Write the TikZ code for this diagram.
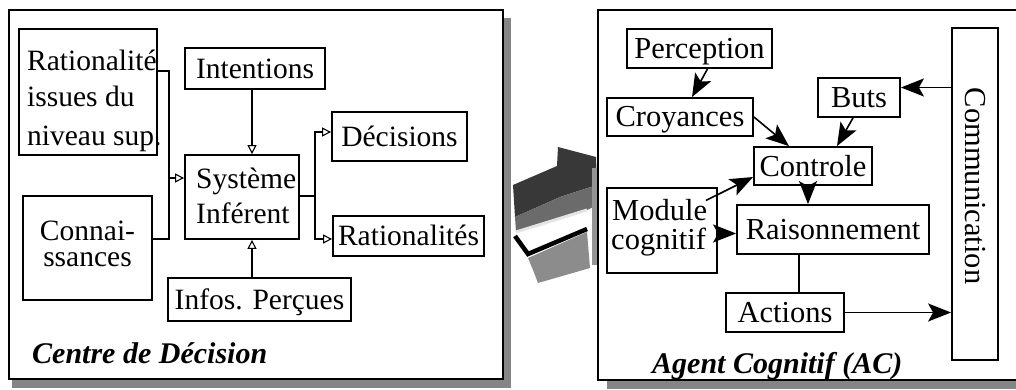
\documentclass[tikz,border=0pt]{standalone}
\usepackage{fontspec}
\setmainfont{Liberation Serif}
\usetikzlibrary{arrows.meta}
\newcommand\fsl{\fontsize{29.5}{35}\selectfont}
\newcommand\fsr{\fontsize{30.5}{36}\selectfont}
\tikzset{
  boxl/.style={draw, line width=1.8pt, inner sep=0pt, font=\fsl, text height=19.5pt, text depth=0pt},
  boxr/.style={draw, line width=1.8pt, inner sep=0pt, font=\fsr, text height=20pt, text depth=0pt},
  txl/.style={inner sep=0pt, font=\fsl, anchor=base west},
  txr/.style={inner sep=0pt, font=\fsr, anchor=base west},
  title/.style={inner sep=0pt, font=\bfseries\itshape\fontsize{30}{36}\selectfont, anchor=base west},
  frame/.style={draw, line width=1.8pt},
  shade/.style={fill=black!48, draw=none},
  thinline/.style={line width=1.1pt},
  openarr/.style={line width=1.1pt, -{Triangle[open, length=9pt, width=9pt]}},
  arr/.style={line width=1.6pt, -{Stealth[length=23pt, width=18pt, inset=5pt]}},
  plain/.style={line width=1.5pt}
}
\begin{document}
\begin{tikzpicture}[x=1pt, y=-1pt]
\useasboundingbox (0,0) rectangle (1016,390);
\clip (0,0) rectangle (1016,390);
\fill[white] (0,0) rectangle (1016,390);

% shadows of frames
\fill[shade] (503,18) rectangle (511,388);
\fill[shade] (12,379) rectangle (511,388);
\fill[shade] (607,380) rectangle (1016,389);

% 3D block arrow
\fill[black!78] (513,185) -- (557,166) -- (558,147) -- (596,157) -- (597,185) -- (560,197) -- (515,217) -- cycle;
\fill[black!58] (515,217) -- (560,197) -- (597,185) -- (597,205) -- (587,210) -- (516,232) -- cycle;
\draw[black!10, line width=3pt] (516,232) -- (587,210);
\fill[black!45] (528,258) -- (587,232) -- (590,268) -- (538,283) -- (533,270) -- cycle;
\draw[black, line width=4.5pt] (515,236) -- (528,254) -- (587,229);
\fill[black!42] (592,168) rectangle (597,265);

% frames
\node[frame, minimum width=494pt, minimum height=369pt, inner sep=0pt] (fl) at (256,194.5) {};
\node[frame, minimum width=422pt, minimum height=370pt, inner sep=0pt] (fr) at (809,195) {};

% ---- left: Centre de Decision ----
\node[boxl, minimum width=138pt, minimum height=126pt] (rat) at (88,92) {};
\node[txl] (rat1) at (27,71) {Rationalité};
\node[txl] (rat2) at (27,107) {issues du};
\node[txl] (rat3) at (27,146) {niveau sup.};

\node[boxl, minimum width=129pt, minimum height=104pt] (con) at (87.5,248) {};
\node[inner sep=0pt, align=center, font=\fontsize{29.5}{26}\selectfont] (con1) at (87.5,244) {Connai-\\ssances};

\node[boxl, minimum width=140pt, minimum height=41pt] (int) at (255,68.5) {Intentions};

\node[boxl, minimum width=114pt, minimum height=84pt] (sys) at (242,197) {};
\node[txl] (sys1) at (196,188) {Système};
\node[txl] (sys2) at (196,223) {Inférent};

\node[boxl, minimum width=135pt, minimum height=49pt] (dec) at (399.5,136.5) {Décisions};
\node[boxl, minimum width=151pt, minimum height=40pt] (rats) at (408.5,236) {Rationalités};
\node[boxl, minimum width=183pt, minimum height=43pt] (inf) at (259.5,299.5) {Infos. Perçues};

\node[title] (tl) at (32,363) {Centre de Décision};

\coordinate (j1) at (169,178);
\draw[thinline] ([yshift=21pt]rat.east) -| (j1);
\draw[thinline] ([yshift=9pt]con.east) -| (j1);
\draw[openarr] (j1) -- (j1 -| sys.west);
\coordinate (vx) at (252,0);
\draw[openarr] (int.south -| vx) -- (sys.north -| vx);
\draw[openarr] (inf.north -| vx) -- (sys.south -| vx);
\coordinate (j2) at (315,196);
\draw[thinline] (j2 -| sys.east) -- (j2);
\draw[openarr] (j2) |- ([yshift=4.5pt]dec.west);
\draw[openarr] (j2) |- ([yshift=-3pt]rats.west);

% ---- right: Agent Cognitif ----
\node[boxr, minimum width=145pt, minimum height=39pt] (per) at (699.5,48.5) {Perception};
\node[boxr, minimum width=146pt, minimum height=38pt] (cro) at (680,117) {Croyances};
\node[boxr, minimum width=82pt, minimum height=39pt] (but) at (859,97.5) {Buts};
\node[boxr, minimum width=118pt, minimum height=38pt] (ctl) at (813,166) {Controle};
\node[boxr, minimum width=110pt, minimum height=85pt] (mod) at (662,230.5) {};
\node[txr] (mod1) at (612,220) {Module};
\node[txr] (mod2) at (611,249) {cognitif};
\node[boxr, minimum width=192pt, minimum height=49pt] (rai) at (833,229.5) {Raisonnement};
\node[boxr, minimum width=118pt, minimum height=39pt] (act) at (785,312.5) {Actions};
\node[boxr, minimum width=46pt, minimum height=332pt] (com) at (975,194) {};
\node[inner sep=0pt, font=\fsr, text height=20pt, text depth=0pt, rotate=-90] (com1) at (975,186) {Communication};

\node[title] (tr) at (652,373) {Agent Cognitif (AC)};

\draw[arr] ([xshift=8pt]per.south) -- ([xshift=12pt]cro.north);
\draw[arr] (cro.east) -- ([xshift=-24pt]ctl.north);
\draw[arr] ([xshift=-6pt]but.south) -- ([xshift=24pt]ctl.north);
\coordinate (bj) at ([yshift=10pt]but.east);
\draw[arr] (bj -| com.west) -- (bj);
\draw[arr] ([xshift=-12pt,yshift=30pt]mod.east) -- ([yshift=-11pt]ctl.west);
\coordinate (mj) at ([yshift=-3pt]mod.east);
\draw[arr] ([xshift=2pt]mj) -- (mj -| rai.west);
\coordinate (cj) at ([xshift=-5pt]ctl.south);
\draw[arr] (cj) -- (cj |- rai.north);
\coordinate (rj) at ([xshift=-34pt]rai.south);
\draw[plain] (rj) -- (rj |- act.north);
\draw[arr] (act.east) -- (act.east -| com.west);
\end{tikzpicture}
\end{document}
